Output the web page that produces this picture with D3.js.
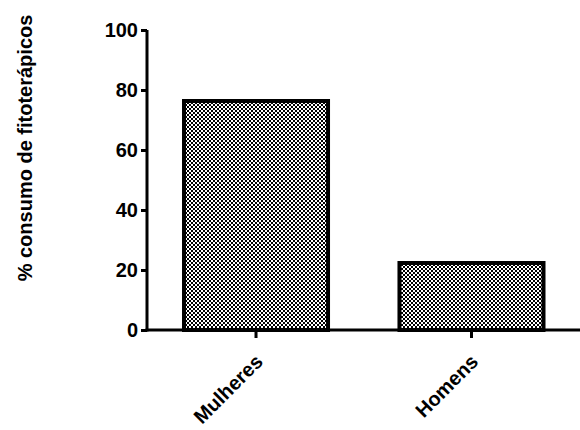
<!DOCTYPE html>
<html>
<head>
<meta charset="utf-8">
<script src="https://cdn.jsdelivr.net/npm/d3@7"></script>
<style>
  body { margin: 0; background: #fff; }
  text { font-family: "Liberation Sans", Arial, sans-serif; font-weight: bold; }
</style>
</head>
<body>
<svg width="580" height="430"></svg>
<script>
var categories = ["Mulheres", "Homens"];
var values = [77, 23];
var yTicks = [0, 20, 40, 60, 80, 100];
var yTitle = "% consumo de fitoterápicos";

var svg = d3.select("svg");
var margin = {left: 147, top: 30, right: 0, bottom: 100};
var width = 580 - margin.left,
    height = 430 - margin.top - margin.bottom;

var defs = svg.append("defs");
var pat = defs.append("pattern")
    .attr("id", "checker")
    .attr("patternUnits", "userSpaceOnUse")
    .attr("width", 4).attr("height", 4);
pat.append("rect").attr("width", 4).attr("height", 4).attr("fill", "#fff");
pat.append("rect").attr("width", 2).attr("height", 2).attr("fill", "#000");
pat.append("rect").attr("x", 2).attr("y", 2).attr("width", 2).attr("height", 2).attr("fill", "#000");

var g = svg.append("g").attr("transform", "translate(" + margin.left + "," + margin.top + ")");

// bars occupy ~35..398 of the plot width, axis runs to the edge
var x = d3.scaleBand().domain(categories).range([35, 398.5]).paddingInner(0.313).paddingOuter(0);
var y = d3.scaleLinear().domain([0, 100]).range([height, 0]);

g.selectAll("rect.bar")
    .data(values)
    .enter().append("rect")
    .attr("class", "bar")
    .attr("x", function (d, i) { return x(categories[i]) + 2; })
    .attr("y", function (d) { return y(d) + 2; })
    .attr("width", x.bandwidth() - 4)
    .attr("height", function (d) { return height - y(d) - 2; })
    .attr("fill", "url(#checker)")
    .attr("stroke", "#000")
    .attr("stroke-width", 4);

var yAxis = g.append("g")
    .call(d3.axisLeft(y).tickValues(yTicks).tickSize(6).tickPadding(3));
yAxis.select(".domain").attr("d", "M0," + (height + 1.5) + "V" + y(100)).attr("stroke-width", 3);
yAxis.selectAll(".tick line").attr("stroke-width", 3);
yAxis.selectAll(".tick text").style("font-size", "20px").attr("fill", "#000");

var xAxis = g.append("g")
    .attr("transform", "translate(0," + height + ")")
    .call(d3.axisBottom(x).tickSize(8).tickPadding(0));
xAxis.select(".domain").attr("d", "M-1.5,0H" + width).attr("stroke-width", 3);
xAxis.selectAll(".tick line").attr("stroke-width", 3);
xAxis.selectAll(".tick text")
    .style("font-size", "20px")
    .attr("fill", "#000")
    .attr("text-anchor", "end")
    .attr("x", 0).attr("y", 0).attr("dy", 0)
    .attr("transform", "translate(8,33) rotate(-45)");

svg.append("text")
    .attr("transform", "translate(32,148) rotate(-90)")
    .attr("text-anchor", "middle")
    .style("font-size", "20px")
    .text(yTitle);
</script>
</body>
</html>
